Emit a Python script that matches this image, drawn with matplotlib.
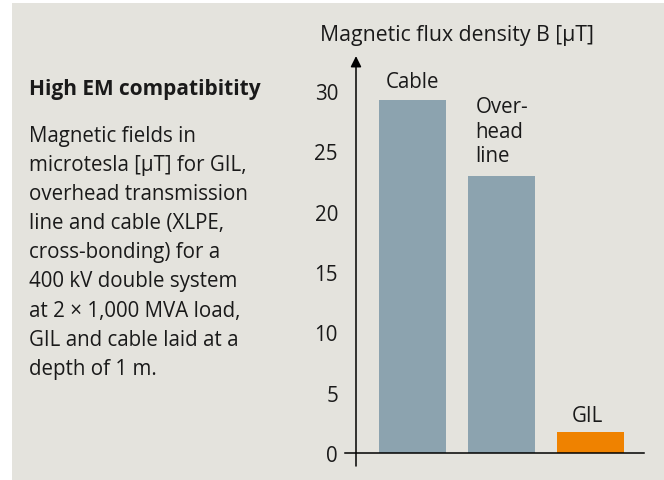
import matplotlib
matplotlib.use("Agg")
import matplotlib.pyplot as plt
from matplotlib.patches import Rectangle

plt.rcParams['font.family'] = ['Open Sans', 'DejaVu Sans']

# ---- data ----
categories = ["Cable", "Over-\nhead\nline", "GIL"]
values = [29.3, 23.0, 1.75]
bar_colors = ["#8ca3af", "#8ca3af", "#ef8200"]
yticks = [0, 5, 10, 15, 20, 25, 30]
ylabel = "Magnetic flux density B [μT]"
title = "High EM compatibitity"
body_lines = [
    "Magnetic fields in",
    "microtesla [μT] for GIL,",
    "overhead transmission",
    "line and cable (XLPE,",
    "cross-bonding) for a",
    "400 kV double system",
    "at 2 × 1,000 MVA load,",
    "GIL and cable laid at a",
    "depth of 1 m.",
]

W, H = 664, 481
BG = "#e4e3dd"
TXT = "#1a1a1a"
FS = 14.8
fig = plt.figure(figsize=(W / 100, H / 100), dpi=100)
fig.patch.set_facecolor("white")
# grey panel
fig.patches.append(Rectangle((12 / W, 0), 1 - 12 / W, 1 - 4 / H,
                             transform=fig.transFigure, facecolor=BG,
                             edgecolor="none", zorder=-10))

# axes
ax = fig.add_axes([356 / W, (H - 454) / H, 288 / W, (454 - 92.2) / H])
ax.set_zorder(1)
ax.set_facecolor("none")
x = list(range(len(categories)))
ax.bar(x, values, width=0.753, color=bar_colors, zorder=2)
ax.set_xlim(-0.64, 2.6)
ax.set_ylim(0, 30)
for s in ax.spines.values():
    s.set_visible(False)
ax.set_xticks([])
ax.set_yticks(yticks)
ax.set_yticklabels([str(t) for t in yticks], fontsize=FS, color=TXT)
ax.tick_params(axis="y", length=0, pad=13)

# axis lines
ax.plot([-0.038, 1.0], [0, 0], transform=ax.transAxes, color="black",
        lw=1.1, clip_on=False, zorder=3)
ax.annotate("", xy=(0, 1.097), xytext=(0, -0.036), xycoords=ax.transAxes,
            textcoords=ax.transAxes,
            arrowprops=dict(arrowstyle="-|>", lw=1.1, color="black",
                            mutation_scale=16, shrinkA=0, shrinkB=0),
            annotation_clip=False, zorder=3)

# bar labels
ax.annotate(categories[0], xy=(x[0], values[0]), xytext=(0, 13),
            textcoords="offset points", ha="center", va="center",
            fontsize=FS, color=TXT)
ax.annotate(categories[1], xy=(x[1] - 0.753 / 2, values[1]), xytext=(5, 32),
            textcoords="offset points", ha="left", va="center",
            fontsize=FS, color=TXT, linespacing=1.2)
ax.annotate(categories[2], xy=(x[2], values[2]), xytext=(-2, 12),
            textcoords="offset points", ha="center", va="center",
            fontsize=FS, color=TXT)

# y label at top
fig.text(320 / W, 1 - 36 / H, ylabel, ha="left", va="center",
         fontsize=15.3, color=TXT)

# left text block
fig.text(29 / W, 1 - 95 / H, title, ha="left", va="baseline",
         fontsize=15, fontweight="bold", color=TXT)
for i, line in enumerate(body_lines):
    fig.text(29 / W, 1 - (142 + 29.1 * i) / H, line, ha="left",
             va="baseline", fontsize=FS, color=TXT)

fig.savefig("out.png", dpi=100, facecolor=fig.get_facecolor())
